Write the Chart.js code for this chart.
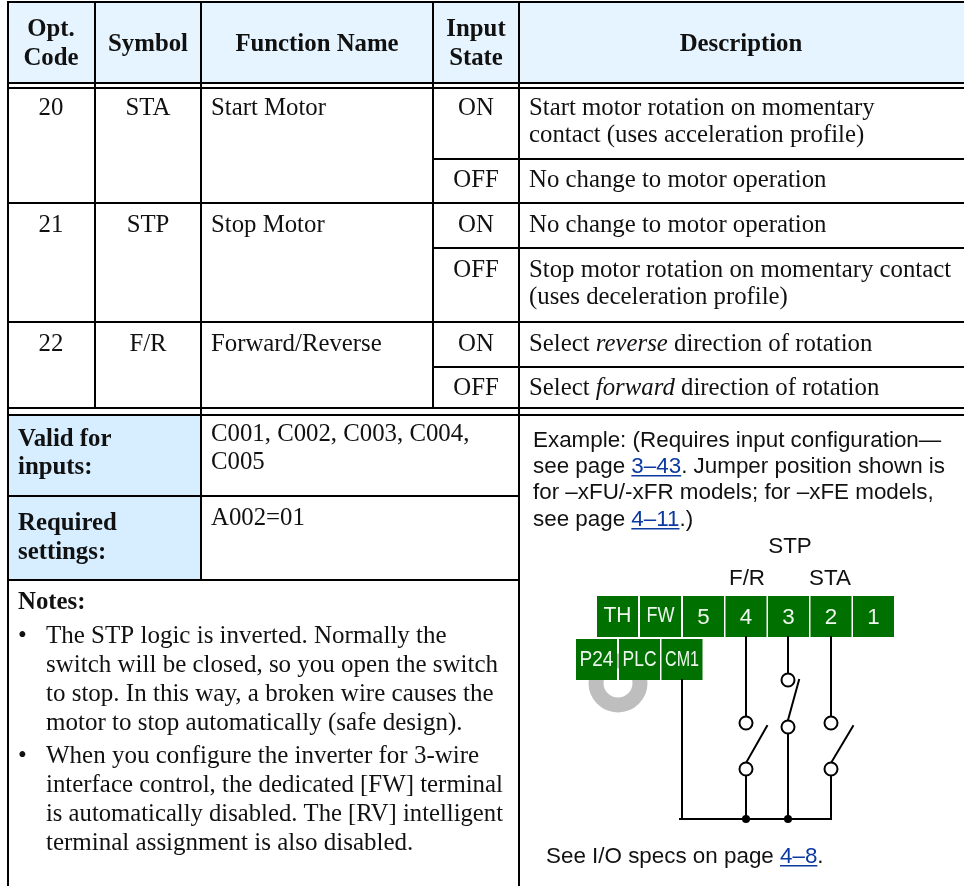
<!DOCTYPE html>
<html>
<head>
<meta charset="utf-8">
<title>STP option code table</title>
<style>
  html, body { margin: 0; padding: 0; background: #fff; }
  canvas { display: block; }
</style>
<script src="https://cdn.jsdelivr.net/npm/chart.js@4/dist/chart.umd.min.js"></script>
</head>
<body>
<canvas id="myChart" width="964" height="886"></canvas>
<script>
// table content
const headerLabels = ['Opt.', 'Code', 'Symbol', 'Function Name', 'Input', 'State', 'Description'];
const optCodes = ['20', '21', '22'];
const symbols = ['STA', 'STP', 'F/R'];
const functionNames = ['Start Motor', 'Stop Motor', 'Forward/Reverse'];
const inputStates = ['ON', 'OFF', 'ON', 'OFF', 'ON', 'OFF'];
const descriptionLines = [
    [['Start motor rotation on momentary']],
    [['contact (uses acceleration profile)']],
    [['No change to motor operation']],
    [['No change to motor operation']],
    [['Stop motor rotation on momentary contact']],
    [['(uses deceleration profile)']],
    [['Select '], ['reverse', 'i'], [' direction of rotation']],
    [['Select '], ['forward', 'i'], [' direction of rotation']]
];
const sideLabels = ['Valid for', 'inputs:', 'Required', 'settings:'];
const sideValues = ['C001, C002, C003, C004,', 'C005', 'A002=01'];
const notesTitle = 'Notes:';
const noteLines = [
    'The STP logic is inverted. Normally the',
    'switch will be closed, so you open the switch',
    'to stop. In this way, a broken wire causes the',
    'motor to stop automatically (safe design).',
    'When you configure the inverter for 3-wire',
    'interface control, the dedicated [FW] terminal',
    'is automatically disabled. The [RV] intelligent',
    'terminal assignment is also disabled.'
];
const exampleLines = [
    [['Example: (Requires input configuration\u2014']],
    [['see page '], ['3\u201343', 'a'], ['. Jumper position shown is']],
    [['for \u2013xFU/-xFR models; for \u2013xFE models,']],
    [['see page '], ['4\u201311', 'a'], ['.)']]
];
const specLine = [['See I/O specs on page '], ['4\u20138', 'a'], ['.']];
const wireLabels = ['STP', 'F/R', 'STA'];
const terminalLabels = ['TH', 'FW', '5', '4', '3', '2', '1', 'P24', 'PLC', 'CM1'];

// positions, in picture units (the scales run 0-964 and 0-886)
const headerX = [51, 51, 148, 317, 476, 476, 741];
const headerY = [36, 65, 51, 51, 36, 65, 51];
const rowY = [115, 232, 351];
const stateY = [115, 187, 232, 277, 351, 395];
const descriptionY = [115, 142, 187, 232, 277, 304, 351, 395];
const sideLabelY = [446, 474, 530, 559];
const sideValueY = [441, 469, 525];
const noteY = [643, 672, 701, 730, 763, 792, 821, 850];
const bulletY = [643, 763];
const exampleY = [447, 473, 499, 526];
const wireLabelX = [790, 747, 830];
const wireLabelY = [553, 585, 585];
const terminalX = [617.5, 660.5, 703.5, 746, 788.5, 831, 873.5, 596.5, 639.5, 682];
const terminalY = [616.5, 616.5, 616.5, 616.5, 616.5, 616.5, 616.5, 659.5, 659.5, 659.5];

// table rules: [x1, y1, x2, y2]
const ruleSegments = [
    [8, 2, 964, 2], [8, 83, 964, 83], [8, 88, 964, 88],
    [433, 159, 964, 159], [8, 203, 964, 203], [433, 248, 964, 248],
    [8, 322, 964, 322], [433, 367, 964, 367], [8, 408, 964, 408], [8, 415, 964, 415],
    [8, 496, 519, 496], [8, 580, 519, 580],
    [8, 2, 8, 886], [95, 2, 95, 408], [201, 2, 201, 580], [433, 2, 433, 408], [519, 2, 519, 886]
];
const wireSegments = [
    [746, 637, 746, 716], [746, 777, 746, 819],
    [788, 637, 788, 673], [788, 734, 788, 819],
    [831, 637, 831, 716], [831, 777, 831, 819],
    [682, 680, 682, 819], [680, 819, 831, 819],
    [746, 763, 767, 726], [788, 720, 799, 680], [831, 763, 853, 726]
];
const contactX = [746, 746, 788, 788, 831, 831];
const contactY = [723, 769, 680, 727, 723, 769];
const junctionX = [746, 788];
const junctionY = [819, 819];
const jumperX = [618];
const jumperY = [683];
const headerBoxX = [8, 964, 964, 8];
const headerBoxY = [2, 2, 83, 83];
const sideBoxX = [8, 201, 201, 8];
const sideBoxY = [415, 415, 580, 580];

const SERIF = '"Liberation Serif"';
const SANS = '"Liberation Sans"';
const LINK = '#0a3aa0';
const SERIF_SIZE = 24.8;
const NOTE_SIZE = 25;
const NOTE_MAX_WIDTH = 457;
const SANS_SIZE = 22.4;

const toPoints = (xs, ys) => xs.map((x, i) => ({ x: x, y: ys[i] }));
const segmentsToPoints = segs => {
    let pts = [];
    segs.forEach(s => {
        pts.push({ x: s[0], y: s[1] }, { x: s[2], y: s[3] }, { x: null, y: null });
    });
    return pts;
};

const polyDataset = (xs, ys, color) => ({
    data: toPoints(xs, ys), showLine: true, fill: 'shape', backgroundColor: color,
    borderWidth: 0, pointRadius: 0, order: 6
});
const lineDataset = (pts, order) => ({
    data: pts, showLine: true, fill: false, borderColor: '#000', borderWidth: 2,
    borderCapStyle: 'square', pointRadius: 0, spanGaps: false, order: order
});

// text is drawn by this plugin so it goes through the same scales as the marks
const tablePlugin = {
    id: 'tableText',
    afterDatasetsDraw(chart) {
        const ctx = chart.ctx;
        const sx = v => chart.scales.x.getPixelForValue(v);
        const sy = v => chart.scales.y.getPixelForValue(v);

        let put = (str, x, y, font, align, color, maxW) => {
            ctx.font = font;
            ctx.textAlign = align || 'left';
            ctx.fillStyle = color || '#111';
            if (maxW) ctx.fillText(str, sx(x), sy(y), maxW);
            else ctx.fillText(str, sx(x), sy(y));
        };
        let putRuns = (runs, x, y, size, family) => {
            let cx = sx(x);
            runs.forEach(r => {
                ctx.font = (r[1] === 'i' ? 'italic ' : '') + size + 'px ' + family;
                ctx.textAlign = 'left';
                ctx.fillStyle = r[1] === 'a' ? LINK : '#111';
                ctx.fillText(r[0], cx, sy(y));
                let w = ctx.measureText(r[0]).width;
                if (r[1] === 'a') ctx.fillRect(cx, sy(y) + 2, w, 1.5);
                cx += w;
            });
        };
        const plain = SERIF_SIZE + 'px ' + SERIF;
        const bold = 'bold ' + SERIF_SIZE + 'px ' + SERIF;

        ctx.save();
        ctx.textBaseline = 'alphabetic';

        headerLabels.forEach((t, i) => put(t, headerX[i], headerY[i], bold, 'center'));
        optCodes.forEach((t, i) => put(t, 51, rowY[i], plain, 'center'));
        symbols.forEach((t, i) => put(t, 148, rowY[i], plain, 'center'));
        functionNames.forEach((t, i) => put(t, 211, rowY[i], plain));
        inputStates.forEach((t, i) => put(t, 476, stateY[i], plain, 'center'));
        descriptionLines.forEach((r, i) => putRuns(r, 529, descriptionY[i], SERIF_SIZE, SERIF));

        sideLabels.forEach((t, i) => put(t, 18, sideLabelY[i], bold));
        sideValues.forEach((t, i) => put(t, 211, sideValueY[i], plain));
        put(notesTitle, 18, 609, bold);
        bulletY.forEach(y => put('\u2022', 18, y, NOTE_SIZE + 'px ' + SERIF));
        noteLines.forEach((t, i) => put(t, 46, noteY[i], NOTE_SIZE + 'px ' + SERIF, 'left', '#111', NOTE_MAX_WIDTH));

        exampleLines.forEach((r, i) => putRuns(r, 533, exampleY[i], SANS_SIZE, SANS));
        putRuns(specLine, 546, 863, SANS_SIZE, SANS);
        wireLabels.forEach((t, i) => put(t, wireLabelX[i], wireLabelY[i], SANS_SIZE + 'px ' + SANS, 'center'));

        terminalLabels.forEach((t, i) => {
            let big = t.length === 1;
            let dy = i < 7 ? (big ? 7 : 5) : 6;
            put(t, terminalX[i], terminalY[i] + dy, '22.4px ' + SANS, 'center', '#eef7ee', big ? null : (i < 7 ? 28 : 34));
        });
        ctx.restore();
    }
};

var ctx = document.getElementById('myChart').getContext('2d');
var myChart = new Chart(ctx, {
    type: 'scatter',
    data: {
        datasets: [
            polyDataset(headerBoxX, headerBoxY, '#e5f4ff'),
            polyDataset(sideBoxX, sideBoxY, '#d6eeff'),
            {
                data: toPoints(jumperX, jumperY), pointRadius: 22, pointBorderWidth: 15,
                pointBorderColor: '#bebebe', pointBackgroundColor: 'rgba(0,0,0,0)', order: 5
            },
            {
                data: toPoints(terminalX, terminalY), pointStyle: 'rect', pointRadius: 29,
                pointBorderWidth: 0, pointBackgroundColor: '#007000', order: 4
            },
            lineDataset(segmentsToPoints(ruleSegments), 3),
            lineDataset(segmentsToPoints(wireSegments), 3),
            {
                data: toPoints(contactX, contactY), pointRadius: 6.5, pointBorderWidth: 2,
                pointBorderColor: '#000', pointBackgroundColor: '#fff', order: 2
            },
            {
                data: toPoints(junctionX, junctionY), pointRadius: 4, pointBorderWidth: 0,
                pointBackgroundColor: '#000', order: 1
            }
        ]
    },
    options: {
        responsive: false,
        animation: false,
        devicePixelRatio: 1,
        layout: { padding: 0, autoPadding: false },
        plugins: { legend: { display: false }, tooltip: { enabled: false } },
        scales: {
            x: { type: 'linear', display: false, min: 0, max: 964 },
            y: { type: 'linear', display: false, min: 0, max: 886, reverse: true }
        }
    },
    plugins: [tablePlugin]
});
</script>
</body>
</html>
